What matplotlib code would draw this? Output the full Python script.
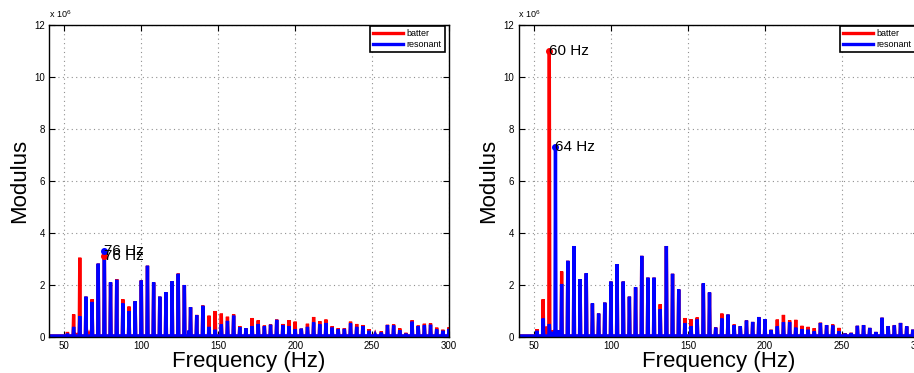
import numpy as np
import matplotlib
matplotlib.use('Agg')
import matplotlib.pyplot as plt

# harmonic frequencies (Hz), values in units of 1e6
freqs = [52, 56, 60, 64, 68, 72, 76, 80, 84, 88, 92, 96, 100, 104, 108, 112, 116, 120,
	124, 128, 132, 136, 140, 144, 148, 152, 156, 160, 164, 168, 172, 176, 180, 184,
	188, 192, 196, 200, 204, 208, 212, 216, 220, 224, 228, 232, 236, 240, 244, 248,
	252, 256, 260, 264, 268, 272, 276, 280, 284, 288, 292, 296, 300]

left_batter = [0.19, 0.87, 3.05, 1.55, 1.45, 2.82, 3.10, 2.10, 2.23, 1.45, 1.17, 1.38, 2.18,
	2.74, 2.10, 1.55, 1.72, 2.15, 2.44, 2.00, 1.15, 0.85, 1.21, 0.82, 1.00, 0.90, 0.78,
	0.87, 0.42, 0.34, 0.73, 0.64, 0.44, 0.48, 0.67, 0.50, 0.65, 0.59, 0.32, 0.51, 0.77,
	0.61, 0.67, 0.41, 0.34, 0.34, 0.59, 0.50, 0.46, 0.30, 0.10, 0.22, 0.47, 0.48, 0.33,
	0.16, 0.64, 0.44, 0.51, 0.52, 0.36, 0.28, 0.37]
left_resonant = [0.13, 0.39, 0.80, 1.55, 1.35, 2.82, 3.30, 2.10, 2.20, 1.29, 1.00, 1.37, 2.17,
	2.74, 2.10, 1.55, 1.72, 2.14, 2.43, 2.00, 1.14, 0.84, 1.20, 0.39, 0.28, 0.48, 0.62,
	0.82, 0.38, 0.33, 0.42, 0.50, 0.41, 0.47, 0.66, 0.45, 0.42, 0.30, 0.32, 0.39, 0.56,
	0.49, 0.54, 0.36, 0.30, 0.31, 0.52, 0.39, 0.42, 0.24, 0.09, 0.17, 0.46, 0.44, 0.26,
	0.13, 0.59, 0.42, 0.45, 0.47, 0.29, 0.24, 0.31]

right_batter = [0.30, 1.45, 11.0, 0.30, 2.52, 2.93, 3.50, 2.23, 2.45, 1.29, 0.90, 1.32, 2.13,
	2.80, 2.13, 1.55, 1.91, 3.12, 2.28, 2.28, 1.26, 3.50, 2.43, 1.83, 0.73, 0.68, 0.75,
	2.06, 1.71, 0.37, 0.90, 0.86, 0.48, 0.42, 0.64, 0.58, 0.77, 0.68, 0.28, 0.67, 0.85,
	0.64, 0.66, 0.43, 0.39, 0.34, 0.55, 0.46, 0.48, 0.35, 0.14, 0.16, 0.43, 0.46, 0.35,
	0.19, 0.74, 0.42, 0.46, 0.54, 0.41, 0.28, 0.30]
right_resonant = [0.24, 0.71, 0.50, 7.30, 2.04, 2.93, 3.50, 2.23, 2.45, 1.29, 0.90, 1.32, 2.13,
	2.80, 2.13, 1.55, 1.91, 3.12, 2.28, 2.28, 1.07, 3.50, 2.43, 1.83, 0.53, 0.42, 0.67,
	2.06, 1.71, 0.36, 0.71, 0.86, 0.45, 0.41, 0.63, 0.58, 0.76, 0.68, 0.27, 0.41, 0.57,
	0.57, 0.36, 0.30, 0.28, 0.22, 0.54, 0.45, 0.44, 0.22, 0.13, 0.15, 0.43, 0.45, 0.35,
	0.19, 0.74, 0.42, 0.44, 0.54, 0.41, 0.28, 0.30]

# small side bumps between harmonics
left_batter_extra_f = [58, 66]
left_batter_extra = [0.15, 0.10]
left_resonant_extra_f = [131]
left_resonant_extra = [0.25]
right_batter_extra_f = [58.5, 62, 66]
right_batter_extra = [0.40, 0.25, 0.20]
right_resonant_extra_f = [62, 66]
right_resonant_extra = [0.20, 0.25]

baseline = 0.04
freq_range = [40, 300]

# annotated peaks: (freq, series)
left_marks = [(76, 'batter'), (76, 'resonant')]
right_marks = [(60, 'batter'), (64, 'resonant')]


def spectrum(f, h, ef, eh):
	pts = sorted(list(zip(f, h)) + list(zip(ef, eh)))
	x = [freq_range[0]]
	y = [baseline]
	for fi, hi in pts:
		x += [fi - 0.35, fi, fi + 0.35]
		y += [baseline, hi, baseline]
	x.append(freq_range[1] + 5)
	y.append(baseline)
	return np.array(x), np.array(y)


def panel(ax, batter, resonant, bextra, rextra, marks):
	xb, yb = spectrum(freqs, batter, bextra[0], bextra[1])
	xr, yr = spectrum(freqs, resonant, rextra[0], rextra[1])
	ax.plot(xb, yb, color='#ff0000', lw=2.4, label='batter', solid_joinstyle='miter')
	ax.plot(xr, yr, color='#0000ff', lw=2.4, label='resonant', solid_joinstyle='miter')

	vals = {'batter': dict(zip(freqs, batter)), 'resonant': dict(zip(freqs, resonant))}
	cols = {'batter': '#ff0000', 'resonant': '#0000ff'}
	for f, s in marks:
		v = vals[s][f]
		ax.plot([f], [v], 'o', color=cols[s], ms=4)
		ax.text(f, v, '%d Hz' % f, fontsize=11, ha='left', va='center', color='black')

	ax.set_xlim(40, 300)
	ax.set_ylim(0, 12)
	ax.set_xticks([50, 100, 150, 200, 250, 300])
	ax.set_yticks([0, 2, 4, 6, 8, 10, 12])
	ax.grid(True, linestyle=(0, (1, 3)), color='#909090', lw=0.8)
	ax.tick_params(direction='in', top=True, right=True, labelsize=7, length=4, pad=3)
	for sp in ax.spines.values():
		sp.set_linewidth(1.0)
	ax.set_xlabel('Frequency (Hz)', fontsize=16, labelpad=0)
	ax.set_ylabel('Modulus', fontsize=16, labelpad=3)
	ax.text(0.0, 1.015, r'x 10$^6$', transform=ax.transAxes, fontsize=6.5, ha='left', va='bottom')

	legend = ax.legend(loc='upper right', bbox_to_anchor=(0.99, 0.997), borderaxespad=0,
		fontsize=6.5, fancybox=False, framealpha=1, handlelength=3.3, borderpad=0.35,
		labelspacing=0.2, handletextpad=0.4)
	legend.get_frame().set_edgecolor('black')
	legend.get_frame().set_linewidth(1.2)


def draw():
	plt.rcParams['font.family'] = ['Liberation Sans', 'DejaVu Sans']
	plt.rcParams['mathtext.fontset'] = 'custom'
	plt.rcParams['mathtext.rm'] = 'Liberation Sans'

	fig = plt.figure(figsize=(9.14, 3.73), dpi=100)
	ax1 = fig.add_axes([49 / 914., 36 / 373., 400 / 914., 312 / 373.])
	ax2 = fig.add_axes([518.5 / 914., 36 / 373., 400.5 / 914., 312 / 373.])

	panel(ax1, left_batter, left_resonant,
		(left_batter_extra_f, left_batter_extra), (left_resonant_extra_f, left_resonant_extra), left_marks)
	panel(ax2, right_batter, right_resonant,
		(right_batter_extra_f, right_batter_extra), (right_resonant_extra_f, right_resonant_extra), right_marks)

	fig.savefig('out.png', dpi=100)


def main():
	draw()


if __name__ == "__main__":
	main()
